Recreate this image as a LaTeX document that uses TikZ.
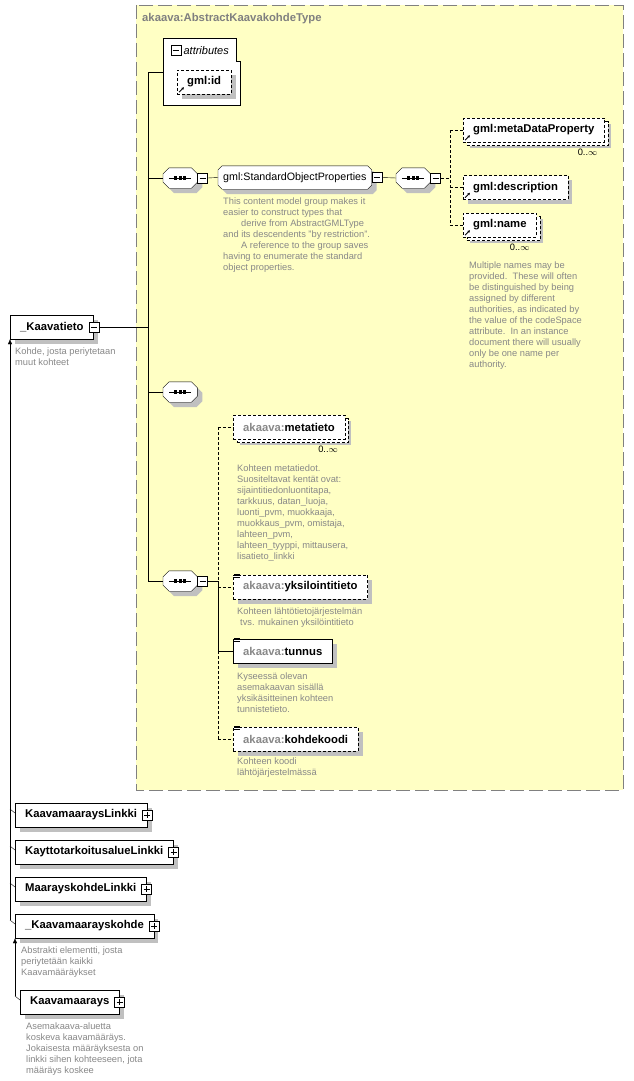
\documentclass[tikz,border=0pt]{standalone}
\usepackage{fontspec}
\setmainfont{Liberation Sans}
\usetikzlibrary{shadows,arrows.meta,positioning}

\definecolor{frameyellow}{RGB}{255,255,196}
\definecolor{framegray}{RGB}{128,128,128}
\definecolor{docgray}{RGB}{136,136,136}
\definecolor{shadowgray}{RGB}{192,192,192}

\pgfdeclarelayer{bottom}
\pgfdeclarelayer{back}
\pgfsetlayers{bottom,back,main}

\begin{document}
\begin{tikzpicture}[x=1pt, y=-1pt, line width=1pt,
  lbl/.style={font=\fontsize{11.3}{13}\selectfont\bfseries},
  dotline/.style={dash pattern=on 3pt off 2pt},
  framedash/.style={dash pattern=on 14pt off 5pt},
  shd/.style={general shadow={fill=shadowgray, shadow xshift=4.5pt, shadow yshift=-4.5pt}},
  manyshd/.style={general shadow={fill=shadowgray, shadow xshift=6.5pt, shadow yshift=-6pt},
    general shadow={draw, dotline, fill=white, shadow xshift=3.5pt, shadow yshift=-3.5pt}},
  elem/.style={draw, fill=white, lbl, anchor=west, minimum height=24, inner xsep=10, inner ysep=0},
  optelem/.style={elem, dotline},
  doc/.style={anchor=north west, align=left, inner sep=0, text=docgray, font=\fontsize{9.3}{11}\selectfont},
  mult/.style={anchor=north east, inner sep=0, font=\fontsize{9.3}{11}\selectfont},
  seq/.style={rectangle, minimum width=34, minimum height=20, inner sep=0, anchor=west},
  grp/.style={rectangle, anchor=west, minimum height=23, inner xsep=5, inner ysep=0,
    font=\fontsize{10.7}{13}\selectfont},
  minusbox/.style={draw, fill=white, minimum size=10, inner sep=0,
    path picture={\draw[line width=0.8pt] ([xshift=2]path picture bounding box.west) -- ([xshift=-2]path picture bounding box.east);}},
  plusbox/.style={draw, fill=white, minimum size=10, inner sep=0,
    path picture={\draw[line width=0.8pt] ([xshift=2]path picture bounding box.west) -- ([xshift=-2]path picture bounding box.east);
      \draw[line width=0.8pt] ([yshift=-2]path picture bounding box.north) -- ([yshift=2]path picture bounding box.south);}},
  inh/.style={-{Latex[length=5pt,width=4.5pt]}}
]
\begin{pgfonlayer}{bottom}
\useasboundingbox (0,0) rectangle (634,1081);
\fill[white] (0,0) rectangle (634,1081);
% complex type frame
\draw[framegray, framedash, fill=frameyellow] (136,5) rectangle (623,790);
\end{pgfonlayer}
\node[lbl, text=framegray, anchor=west, inner sep=0] (title) at (142,19) {akaava:AbstractKaavakohdeType};

% attributes
\draw[fill=white] (163,38) -- (236,38) -- (236,61) -- (240,61) -- (240,105) -- (163,105) -- cycle;
\coordinate (attr) at (163,72);
\node[minusbox, anchor=west] (attrmin) at (170.5,50.5) {};
\node[right=2.5pt of attrmin, inner sep=0, font=\fontsize{11}{13}\selectfont\itshape] (attrlbl) {attributes};
\node[optelem, shd] (gmlid) at (177,82) {gml:id};

% head element
\node[elem, shd] (kaavatieto) at (10,327) {\_Kaavatieto};
\node[minusbox] (kvmin) at (kaavatieto.east) {};
\node[doc] (kvdoc) at (15,348) {Kohde, josta periytetaan\\muut kohteet};

% sequences
\node[seq] (seqsop) at (163,178) {};
\node[minusbox, anchor=west] (seqsopmin) at (seqsop.east) {};
\node[seq] (seqempty) at (163,392) {};
\node[seq] (seqkaava) at (163,581) {};
\node[minusbox, anchor=west] (seqkaavamin) at (seqkaava.east) {};

% main hub
\coordinate (hubtop) at (148,72);
\coordinate (hubbot) at (148,581);
\draw (hubtop) -- (hubbot);
\draw (hubtop) -- (attr);
\draw (kvmin.east) -- (kvmin.east -| hubtop);
\foreach \n in {seqsop,seqempty,seqkaava}
  \draw (\n.west) -- (\n.west -| hubtop);

% StandardObjectProperties group
\node[grp] (sop) at (218,177.5) {gml:StandardObjectProperties};
\node[minusbox, anchor=west] (sopmin) at (sop.east) {};
\node[doc] (sopdoc) at (223,197.5) {This content model group makes it\\easier to construct types that\\\hspace*{18pt}derive from AbstractGMLType\\and its descendents "by restriction".\\\hspace*{18pt}A reference to the group saves\\having to enumerate the standard\\object properties.};
\node[seq] (seqinner) at (396,178) {};
\node[minusbox, anchor=west] (seqinnermin) at (seqinner.east) {};
\draw (seqsopmin.east) -- (sop.west);
\draw (sopmin.east) -- (seqinner.west);

% octagon outlines behind the sequence and group nodes
\begin{pgfonlayer}{back}
\foreach \n/\c in {seqsop/6,seqinner/6,seqempty/6,seqkaava/6,sop/4} {
  \fill[shadowgray, transform canvas={xshift=5pt, yshift=-5pt}] ([xshift=\c]\n.north west) -- ([xshift=-\c]\n.north east) -- ([yshift=-\c]\n.north east) -- ([yshift=\c]\n.south east) -- ([xshift=-\c]\n.south east) -- ([xshift=\c]\n.south west) -- ([yshift=\c]\n.south west) -- ([yshift=-\c]\n.north west) -- cycle;
  \filldraw[fill=white] ([xshift=\c]\n.north west) -- ([xshift=-\c]\n.north east) -- ([yshift=-\c]\n.north east) -- ([yshift=\c]\n.south east) -- ([xshift=-\c]\n.south east) -- ([xshift=\c]\n.south west) -- ([yshift=\c]\n.south west) -- ([yshift=-\c]\n.north west) -- cycle;
}
\foreach \n in {seqsop,seqinner,seqempty,seqkaava} {
  \draw ([xshift=-11]\n.center) -- ([xshift=11]\n.center);
  \foreach \dx in {-4.5,0,4.5}
    \fill ([xshift=\dx]\n.center) +(-1.6,-1.6) rectangle +(1.6,1.6);
}
\end{pgfonlayer}

\node[optelem, manyshd] (mdp) at (463,130) {gml:metaDataProperty};
\node[mult] (mdpmult) at ([shift={(-7,7)}]mdp.south east) {0..$\infty$};
\node[optelem, shd] (desc) at (463,187.5) {gml:description};
\node[optelem, manyshd] (gname) at (463,225) {gml:name};
\node[mult] (gnamemult) at ([shift={(-7,7)}]gname.south east) {0..$\infty$};
\node[doc] (namedoc) at (469,261.5) {Multiple names may be\\provided.\ \ These will often\\be distinguished by being\\assigned by different\\authorities, as indicated by\\the value of the codeSpace\\attribute.\ \ In an instance\\document there will usually\\only be one name per\\authority.};

\draw[dotline] (seqinnermin.east) -- ++(9,0) coordinate (innerhub);
\draw[dotline] (innerhub |- mdp.west) -- (innerhub |- gname.west);
\foreach \n in {mdp,desc,gname}
  \draw[dotline] (innerhub |- \n.west) -- (\n.west);

% reference arrows
\foreach \n in {gmlid,mdp,desc,gname}
  \draw[-{Latex[length=2.5pt,width=3pt]}, line width=0.8pt] ([shift={(2,-2)}]\n.south west) -- ++(5,-5);

% akaava elements
\node[optelem, manyshd] (metatieto) at (233,427) {{\color{docgray}akaava:}metatieto};
\node[mult] (metamult) at ([shift={(-7,7)}]metatieto.south east) {0..$\infty$};
\node[doc] (metadoc) at (237,464.5) {Kohteen metatiedot.\\Suositeltavat kentät ovat:\\sijaintitiedonluontitapa,\\tarkkuus, datan\_luoja,\\luonti\_pvm, muokkaaja,\\muokkaus\_pvm, omistaja,\\lahteen\_pvm,\\lahteen\_tyyppi, mittausera,\\lisatieto\_linkki};
\node[optelem, shd] (yksil) at (233,587) {{\color{docgray}akaava:}yksilointitieto};
\node[doc] (yksdoc) at (237,607.5) {Kohteen lähtötietojärjestelmän\\\hspace*{3pt}tvs. mukainen yksilöintitieto};
\node[elem, shd] (tunnus) at (233,651) {{\color{docgray}akaava:}tunnus};
\node[doc] (tunnusdoc) at (237,673) {Kyseessä olevan\\asemakaavan sisällä\\yksikäsitteinen kohteen\\tunnistetieto.};
\node[optelem, shd] (kohdekoodi) at (233,739) {{\color{docgray}akaava:}kohdekoodi};
\node[doc] (kohdedoc) at (237,758) {Kohteen koodi\\lähtöjärjestelmässä};

% simple content icons
\foreach \n in {yksil,tunnus,kohdekoodi}
  \foreach \dy in {-1,0.8,2.6}
    \draw[line width=0.5pt] ([shift={(1,\dy)}]\n.north west) -- ++(6,0);

\draw (seqkaavamin.east) -- ++(10,0) coordinate (kaavahub);
\draw[dotline] (kaavahub |- metatieto.west) -- (kaavahub);
\draw[dotline] (kaavahub |- tunnus.west) -- (kaavahub |- kohdekoodi.west);
\draw (kaavahub) -- (kaavahub |- tunnus.west);
\draw[dotline] (kaavahub |- metatieto.west) -- (metatieto.west);
\draw[dotline] (kaavahub |- yksil.west) -- (yksil.west);
\draw (kaavahub |- tunnus.west) -- (tunnus.west);
\draw[dotline] (kaavahub |- kohdekoodi.west) -- (kohdekoodi.west);

% substitution group
\node[elem, shd] (kml) at (15,815) {KaavamaaraysLinkki};
\node[elem, shd] (ktl) at (15,852) {KayttotarkoitusalueLinkki};
\node[elem, shd] (mkl) at (15,889) {MaarayskohdeLinkki};
\node[elem, shd] (kmk) at (15,926) {\_Kaavamaarayskohde};
\node[doc] (kmkdoc) at (21,947) {Abstrakti elementti, josta\\periytetään kaikki\\Kaavamääräykset};
\node[elem, shd] (km) at (20,1002) {Kaavamaarays};
\node[doc] (kmdoc) at (26,1023) {Asemakaava-aluetta\\koskeva kaavamääräys.\\Jokaisesta määräyksesta on\\linkki sihen kohteeseen, jota\\määräys koskee};
\foreach \n in {kml,ktl,mkl,kmk,km}
  \node[plusbox] at (\n.east) {};

\draw[inh] ([shift={(-5,-6)}]kmk.west) -- (kaavatieto.south west);
\foreach \n in {kml,ktl,mkl,kmk}
  \draw ([shift={(-5,-6)}]\n.west) -- ([shift={(0,-2)}]\n.west);
\draw[inh] ([shift={(-5,-6)}]km.west) -- (kmk.south west);
\draw ([shift={(-5,-6)}]km.west) -- ([shift={(0,-2)}]km.west);

\end{tikzpicture}
\end{document}
